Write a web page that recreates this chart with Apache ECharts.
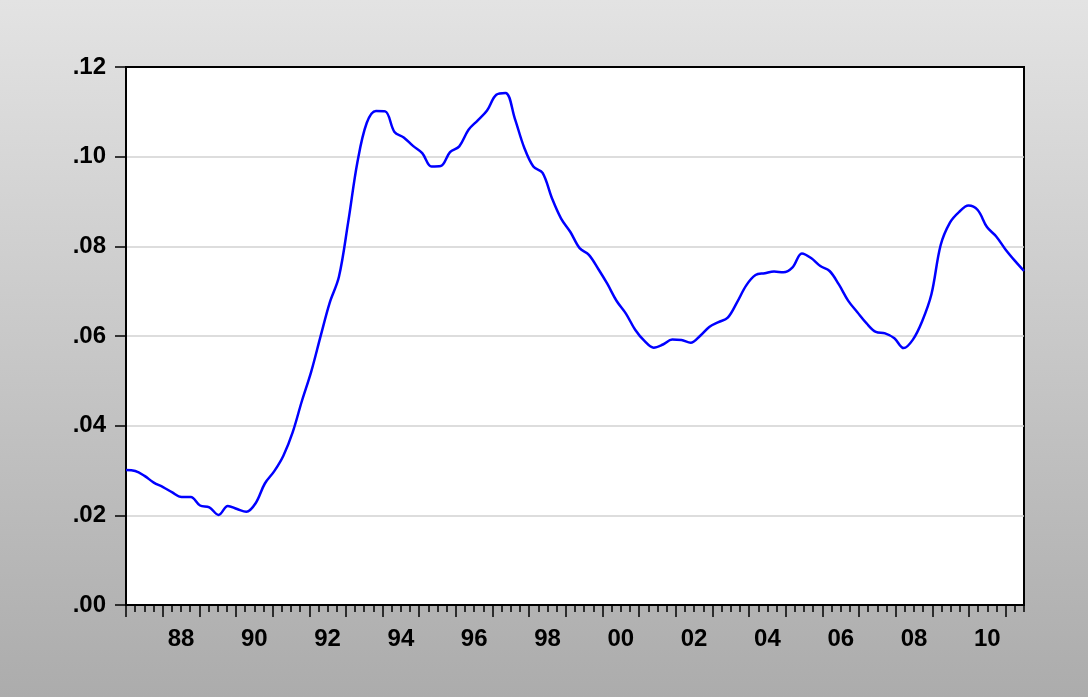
<!DOCTYPE html>
<html>
<head>
<meta charset="utf-8">
<script src="https://cdn.jsdelivr.net/npm/echarts@6/dist/echarts.min.js"></script>
<style>
  html, body { margin: 0; padding: 0; }
  #chart { width: 1088px; height: 697px; }
</style>
</head>
<body>
<div id="chart"></div>
<script>
// Series: readings from 1987 to mid-2011, one per quarter (98 observations)
const startYear = 1987;
const endYear = 2011.5;
const values = [
  0.0301, 0.0299, 0.0288, 0.0273, 0.0263, 0.0251, 0.0241, 0.0241, 0.0222, 0.0218,
  0.0201, 0.0221, 0.0214, 0.0208, 0.0227, 0.0271, 0.0298, 0.0333, 0.0385, 0.0455,
  0.0520, 0.0598, 0.0674, 0.0732, 0.0854, 0.0988, 0.1075, 0.1102, 0.1101, 0.1055,
  0.1043, 0.1024, 0.1008, 0.0978, 0.0979, 0.1010, 0.1023, 0.1060, 0.1081, 0.1103,
  0.1138, 0.1142, 0.1085, 0.1021, 0.0978, 0.0964, 0.0908, 0.0862, 0.0832, 0.0796,
  0.0781, 0.0750, 0.0716, 0.0678, 0.0650, 0.0614, 0.0589, 0.0574, 0.0581, 0.0592,
  0.0591, 0.0585, 0.0600, 0.0620, 0.0631, 0.0641, 0.0675, 0.0713, 0.0736, 0.0740,
  0.0744, 0.0742, 0.0753, 0.0784, 0.0774, 0.0756, 0.0745, 0.0715, 0.0679, 0.0653,
  0.0628, 0.0609, 0.0606, 0.0595, 0.0573, 0.0592, 0.0633, 0.0693, 0.0803, 0.0853,
  0.0877, 0.0891, 0.0881, 0.0843, 0.0822, 0.0793, 0.0768, 0.0745
];
const yTickValues = [0, 0.02, 0.04, 0.06, 0.08, 0.10, 0.12];
const yTickLabels = ['.00', '.02', '.04', '.06', '.08', '.10', '.12'];
const xLabelYears = [1988, 1990, 1992, 1994, 1996, 1998, 2000, 2002, 2004, 2006, 2008, 2010];
const xTickLabels = ['88', '90', '92', '94', '96', '98', '00', '02', '04', '06', '08', '10'];

const step = (endYear - startYear) / (values.length - 1);
const seriesData = values.map((v, i) => [startYear + i * step, v]);

const yearTicks = [];
for (let y = startYear; y <= Math.floor(endYear); y++) yearTicks.push(y);
const labelPositions = xLabelYears.map(y => y + 0.5);

const font = 'Liberation Sans, Arial, sans-serif';
const chart = echarts.init(document.getElementById('chart'), null, { renderer: 'canvas' });
chart.setOption({
  animation: false,
  backgroundColor: {
    type: 'linear', x: 0, y: 0, x2: 0, y2: 1,
    colorStops: [{ offset: 0, color: '#e3e3e3' }, { offset: 1, color: '#acacac' }]
  },
  grid: {
    left: 126, right: 64, top: 67, bottom: 92,
    show: true, backgroundColor: '#ffffff', borderColor: '#000000', borderWidth: 2
  },
  xAxis: [
    {
      type: 'value', min: startYear, max: endYear, interval: 0.25,
      axisLine: { show: true, lineStyle: { color: '#000', width: 2 } },
      axisTick: { show: true, inside: false, length: 7, lineStyle: { color: '#000', width: 1.5 } },
      axisLabel: { show: false },
      splitLine: { show: false }
    },
    {
      type: 'value', min: startYear, max: endYear, position: 'bottom',
      axisLine: { show: false },
      axisTick: { show: true, inside: false, length: 12, customValues: yearTicks, lineStyle: { color: '#000', width: 1.5 } },
      axisLabel: {
        show: true, customValues: labelPositions, margin: 22,
        fontFamily: font, fontWeight: 'bold', fontSize: 24, color: '#000',
        formatter: v => {
          const k = labelPositions.findIndex(p => Math.abs(p - v) < 1e-6);
          return k >= 0 ? xTickLabels[k] : '';
        }
      },
      splitLine: { show: false }
    }
  ],
  yAxis: {
    type: 'value', min: 0, max: 0.12, interval: 0.02,
    axisLine: { show: true, lineStyle: { color: '#000', width: 2 } },
    axisTick: { show: true, inside: false, length: 11, lineStyle: { color: '#000', width: 1.5 } },
    axisLabel: {
      margin: 20, fontFamily: font, fontWeight: 'bold', fontSize: 24, color: '#000',
      formatter: v => {
        const k = yTickValues.findIndex(t => Math.abs(t - v) < 1e-9);
        return k >= 0 ? yTickLabels[k] : '';
      }
    },
    splitLine: { show: true, showMinLine: false, showMaxLine: false, lineStyle: { color: '#d2d2d2', width: 1.5 } }
  },
  series: [{
    type: 'line', xAxisIndex: 0, data: seriesData, showSymbol: false,
    smooth: 0.35, lineStyle: { color: '#0000ff', width: 2.5 }, z: 3
  }]
});
</script>
</body>
</html>
